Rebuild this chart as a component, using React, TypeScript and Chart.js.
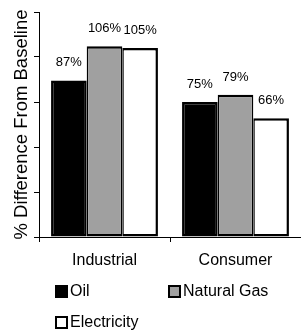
import React, { useEffect, useRef } from "react";
import { Chart, registerables } from "chart.js";

Chart.register(...registerables);

const categories = ["Industrial", "Consumer"];
const seriesNames = ["Oil", "Natural Gas", "Electricity"];
const oilValues = [87, 75];
const gasValues = [106, 79];
const electricityValues = [105, 66];
const seriesColors = ["#000000", "#a0a0a0", "#ffffff"];
const yMin = 0;
const yMax = 125;
const yStep = 25;
const yTitle = "% Difference From Baseline";

const FONT = "'Liberation Sans', Arial, Helvetica, sans-serif";

const borderWidths = [
  { top: 2.5, left: 2.5, right: 2.5, bottom: 2.5 },
  { top: 2.5, left: 1.5, right: 1.5, bottom: 2.5 },
  { top: 2.5, left: 1.5, right: 2.5, bottom: 2.5 },
];

const valueLabelPlugin = {
  id: "valueLabels",
  afterDatasetsDraw(chart: any) {
    const ctx = chart.ctx;
    ctx.save();
    ctx.font = `13px ${FONT}`;
    ctx.fillStyle = "#000";
    ctx.textAlign = "center";
    ctx.textBaseline = "middle";
    chart.data.datasets.forEach((ds: any, i: number) => {
      const meta = chart.getDatasetMeta(i);
      meta.data.forEach((el: any, j: number) => {
        ctx.fillText(`${ds.data[j]}%`, el.x, el.y - 17.5);
      });
    });
    ctx.restore();
  },
};

const legendItems = [
  { name: seriesNames[0], color: seriesColors[0], left: 55, top: 284 },
  { name: seriesNames[1], color: seriesColors[1], left: 168, top: 284 },
  { name: seriesNames[2], color: seriesColors[2], left: 55, top: 315 },
];

export default function App() {
  const canvasRef = useRef<HTMLCanvasElement | null>(null);

  useEffect(() => {
    if (!canvasRef.current) return;
    const dataSets = [oilValues, gasValues, electricityValues];
    const chart = new Chart(canvasRef.current, {
      type: "bar",
      data: {
        labels: categories,
        datasets: dataSets.map((d, i) => ({
          label: seriesNames[i],
          data: d,
          backgroundColor: seriesColors[i],
          borderColor: "#000000",
          borderWidth: borderWidths[i],
          borderSkipped: false,
          categoryPercentage: 0.816,
          barPercentage: 1,
        })),
      },
      options: {
        animation: false,
        responsive: false,
        maintainAspectRatio: false,
        layout: { padding: { top: 12, left: 0, right: 0, bottom: 0 } },
        plugins: {
          legend: { display: false },
          tooltip: { enabled: false },
          title: { display: false },
        },
        scales: {
          x: {
            grid: {
              drawOnChartArea: false,
              offset: true,
              tickLength: 5,
              color: "#000",
              lineWidth: 1,
            },
            border: { color: "#000", width: 1 },
            ticks: {
              color: "#000",
              font: { family: FONT, size: 16 },
              padding: 9,
            },
            afterFit: (s: any) => {
              s.height = 96;
            },
          },
          y: {
            min: yMin,
            max: yMax,
            ticks: { stepSize: yStep, display: false },
            grid: {
              drawOnChartArea: false,
              tickLength: 5,
              color: "#000",
              lineWidth: 1,
            },
            border: { color: "#000", width: 1 },
            title: {
              display: true,
              text: yTitle,
              color: "#000",
              font: { family: FONT, size: 18.5 },
              padding: { top: 11, bottom: 0 },
            },
            afterFit: (s: any) => {
              s.width = 39;
            },
          },
        },
      },
      plugins: [valueLabelPlugin],
    } as any);
    return () => chart.destroy();
  }, []);

  return (
    <div style={{ position: "absolute", left: 0, top: 0, width: 301, height: 333, background: "#fff" }}>
      <canvas ref={canvasRef} width={301} height={333} style={{ display: "block", width: 301, height: 333 }} />
      {legendItems.map((it) => (
        <div
          key={it.name}
          style={{
            position: "absolute",
            left: it.left,
            top: it.top,
            height: 14,
            display: "flex",
            alignItems: "center",
            fontFamily: FONT,
            fontSize: 16,
            color: "#000",
            whiteSpace: "nowrap",
          }}
        >
          <span
            style={{
              display: "inline-block",
              width: 13,
              height: 13,
              boxSizing: "border-box",
              border: "2.5px solid #000",
              background: it.color,
              marginRight: 2,
            }}
          />
          <span style={{ lineHeight: "14px" }}>{it.name}</span>
        </div>
      ))}
    </div>
  );
}
